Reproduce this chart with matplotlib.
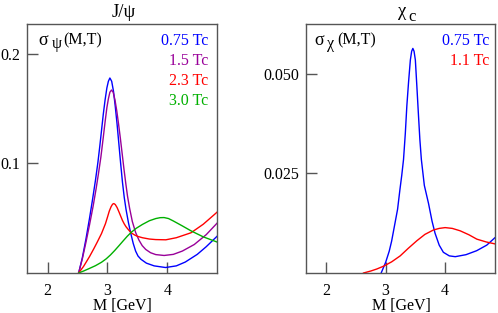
import matplotlib
matplotlib.use('Agg')
import matplotlib.pyplot as plt

W, H = 498, 313
plt.rcParams['font.family'] = ['Liberation Serif', 'DejaVu Serif']

# ---------------- data ----------------
# J/psi panel
jpsi_M_075 = [2.518, 2.58, 2.64, 2.70, 2.75, 2.80, 2.84, 2.87, 2.90, 2.93, 2.96, 2.99, 3.015,
              3.04, 3.07, 3.10, 3.13, 3.16, 3.19, 3.22, 3.25, 3.28, 3.31, 3.35, 3.39, 3.43,
              3.47, 3.51, 3.56, 3.65, 3.78, 3.97, 4.15, 4.30, 4.50, 4.65, 4.84]
jpsi_S_075 = [0.0, 0.014, 0.031, 0.050, 0.067, 0.085, 0.101, 0.115, 0.130, 0.145, 0.158, 0.169, 0.175,
              0.178, 0.175, 0.166, 0.152, 0.136, 0.118, 0.100, 0.083, 0.069, 0.058, 0.046, 0.036, 0.027,
              0.020, 0.0155, 0.0125, 0.009, 0.0065, 0.005, 0.0065, 0.010, 0.017, 0.024, 0.034]

jpsi_M_15 = [2.518, 2.58, 2.64, 2.70, 2.76, 2.81, 2.85, 2.89, 2.93, 2.96, 2.99, 3.015, 3.04,
             3.067, 3.095, 3.125, 3.155, 3.185, 3.215, 3.245, 3.275, 3.305, 3.335, 3.37, 3.415,
             3.47, 3.526, 3.58, 3.639, 3.72, 3.807, 3.946, 4.10, 4.25, 4.45, 4.65, 4.84]
jpsi_S_15 = [0.0, 0.013, 0.028, 0.044, 0.061, 0.077, 0.091, 0.106, 0.124, 0.138, 0.151, 0.159, 0.165,
             0.167, 0.165, 0.158, 0.148, 0.136, 0.123, 0.109, 0.095, 0.082, 0.070, 0.059, 0.047,
             0.037, 0.030, 0.025, 0.0215, 0.0185, 0.0168, 0.016, 0.017, 0.020, 0.026, 0.035, 0.046]

jpsi_M_23 = [2.518, 2.60, 2.70, 2.77, 2.827, 2.90, 2.966, 3.00, 3.03, 3.06, 3.085, 3.106, 3.13,
             3.16, 3.19, 3.22, 3.25, 3.28, 3.31, 3.35, 3.40, 3.45, 3.50, 3.583, 3.70, 3.807,
             3.975, 4.15, 4.395, 4.60, 4.787, 4.84]
jpsi_S_23 = [0.0, 0.006, 0.015, 0.022, 0.028, 0.036, 0.045, 0.051, 0.0565, 0.0605, 0.0628, 0.0634, 0.0625,
             0.0598, 0.0560, 0.052, 0.048, 0.0448, 0.0422, 0.0395, 0.0365, 0.0348, 0.0335, 0.0322, 0.031, 0.0305,
             0.0303, 0.0322, 0.0367, 0.0445, 0.0534, 0.056]

jpsi_M_30 = [2.518, 2.60, 2.70, 2.80, 2.90, 2.98, 3.05, 3.12, 3.19, 3.26, 3.33, 3.40, 3.48, 3.583,
             3.70, 3.807, 3.88, 3.946, 4.02, 4.10, 4.25, 4.395, 4.60, 4.844]
jpsi_S_30 = [0.0, 0.0018, 0.0042, 0.0067, 0.0098, 0.0130, 0.0165, 0.0205, 0.0248, 0.0292, 0.0335, 0.0373, 0.0408, 0.0443,
             0.0477, 0.0497, 0.0505, 0.0506, 0.0497, 0.0475, 0.043, 0.0385, 0.033, 0.028]

# chi_c panel
chi_M_075 = [2.924, 3.00, 3.06, 3.10, 3.15, 3.20, 3.24, 3.27, 3.30, 3.33, 3.356, 3.385, 3.415,
             3.437, 3.457, 3.477, 3.499, 3.524, 3.55, 3.575, 3.60, 3.65, 3.72, 3.78, 3.83,
             3.90, 3.97, 4.07, 4.17, 4.35, 4.53, 4.70, 4.84]
chi_S_075 = [0.0, 0.0027, 0.0055, 0.0080, 0.0120, 0.0160, 0.0210, 0.0245, 0.0285, 0.035, 0.042, 0.048, 0.0535,
             0.0557, 0.0564, 0.0557, 0.0535, 0.047, 0.040, 0.0335, 0.0285, 0.022, 0.0175, 0.013, 0.010,
             0.007, 0.0052, 0.0043, 0.0041, 0.0046, 0.0056, 0.0070, 0.0089]

chi_M_11 = [2.627, 2.75, 2.85, 2.963, 3.10, 3.244, 3.38, 3.524, 3.66, 3.803, 3.90, 4.0, 4.12,
            4.252, 4.40, 4.533, 4.69, 4.84]
chi_S_11 = [0.0, 0.0005, 0.0010, 0.0017, 0.0028, 0.0043, 0.0062, 0.0081, 0.0097, 0.0108, 0.0112, 0.0114, 0.0112,
            0.0106, 0.0096, 0.0085, 0.0078, 0.0073]

jpsi_labels = ['0.75 Tc', '1.5 Tc', '2.3 Tc', '3.0 Tc']
chi_labels = ['0.75 Tc', '1.1 Tc']
colors4 = ['#0000ff', '#990099', '#ff0000', '#00b000']
colors2 = ['#0000ff', '#ff0000']

x_ticks = [2, 3, 4]
jpsi_yticks = [0.1, 0.2]
jpsi_ytick_labels = ['0.1', '0.2']
chi_yticks = [0.025, 0.050]
chi_ytick_labels = ['0.025', '0.050']

# ---------------- figure ----------------
fig = plt.figure(figsize=(W / 100, H / 100), dpi=100)


def rect(x0, x1, y0, y1):
    return [x0 / W, 1 - y1 / H, (x1 - x0) / W, (y1 - y0) / H]


def ptext(px, py, s, **kw):
    kw.setdefault('va', 'baseline')
    return fig.text(px / W, 1 - py / H, s, **kw)


ax1 = fig.add_axes(rect(27, 217, 24.3, 273))
ax2 = fig.add_axes(rect(305.7, 494.5, 24.3, 273))

spine_c = '#555555'
for ax in (ax1, ax2):
    for sp in ax.spines.values():
        sp.set_color(spine_c)
        sp.set_linewidth(1.0)
    ax.set_xlim(1.655, 4.83)
    ax.set_xticks(x_ticks)
    ax.tick_params(axis='both', direction='in', length=8, width=1.0, color=spine_c,
                   labelsize=11.5, top=False, right=False)
    ax.tick_params(axis='x', pad=7)
    ax.tick_params(axis='y', pad=5)

ax1.set_ylim(0, 0.227)
ax1.set_yticks(jpsi_yticks)
ax1.set_yticklabels(jpsi_ytick_labels)
ax2.set_ylim(0, 0.06246)
ax2.set_yticks(chi_yticks)
ax2.set_yticklabels(chi_ytick_labels)

for Ms, Ss, c in zip([jpsi_M_075, jpsi_M_15, jpsi_M_23, jpsi_M_30],
                     [jpsi_S_075, jpsi_S_15, jpsi_S_23, jpsi_S_30], colors4):
    ax1.plot(Ms, Ss, color=c, lw=1.0)
for Ms, Ss, c in zip([chi_M_075, chi_M_11], [chi_S_075, chi_S_11], colors2):
    ax2.plot(Ms, Ss, color=c, lw=1.0)

# legend-like labels
for i, (lab, c) in enumerate(zip(jpsi_labels, colors4)):
    ptext(208, 44.7 + 20 * i, lab, color=c, ha='right', fontsize=11.5)
for i, (lab, c) in enumerate(zip(chi_labels, colors2)):
    ptext(489, 44.7 + 20 * i, lab, color=c, ha='right', fontsize=11.5)

# sigma labels
ptext(38.5, 45, 'σ', fontsize=13)
ptext(51.5, 48, 'ψ', fontsize=11.5)
ptext(63.3, 44.5, '(M,T)', fontsize=11.5)
ptext(314.5, 45, 'σ', fontsize=13)
ptext(326.5, 48.5, 'χ', fontsize=11.5)
ptext(337, 44.5, '(M,T)', fontsize=11.5)

# titles
ptext(124, 16.7, 'J/ψ', ha='center', fontsize=13.5)
ptext(398, 15.5, 'χ', fontsize=13.5)
ptext(408.5, 21, 'c', fontsize=12)

# x labels
ptext(122, 310, 'M [GeV]', ha='center', fontsize=11.5)
ptext(401, 310, 'M [GeV]', ha='center', fontsize=11.5)

fig.savefig('out.png', dpi=100)
